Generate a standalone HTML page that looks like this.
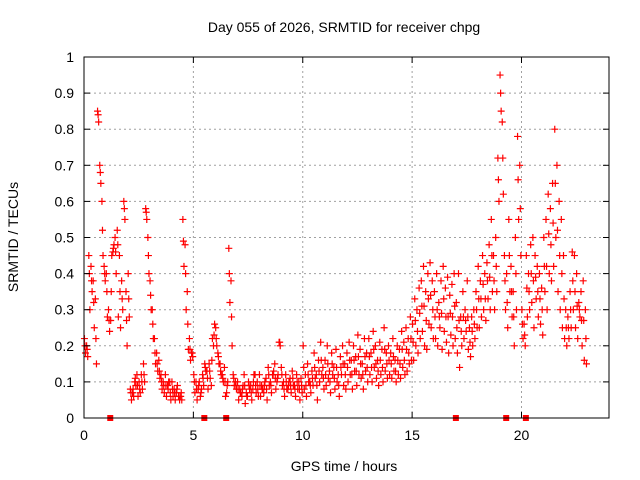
<!DOCTYPE html>
<html><head><meta charset="utf-8"><style>
body{margin:0;background:#fff}
svg{display:block;font-family:"Liberation Sans",sans-serif}
</style></head><body>
<svg id="chart" width="640" height="480" viewBox="0 0 640 480">
<rect width="640" height="480" fill="#fff"/>
<text x="344" y="32" font-size="14" text-anchor="middle" fill="#000">Day 055 of 2026, SRMTID for receiver chpg</text>
<text x="0" y="0" font-size="14" text-anchor="middle" transform="translate(18,237) rotate(-90)">SRMTID / TECUs</text>
<text x="344" y="471" font-size="14" text-anchor="middle">GPS time / hours</text>
<g id="grid"></g><g id="marks"></g><g id="axes"></g>
</svg>
<script>
const xTicks=[0,5,10,15,20];
const yTicks=[0,0.1,0.2,0.3,0.4,0.5,0.6,0.7,0.8,0.9,1];
const yTickLabels=["0","0.1","0.2","0.3","0.4","0.5","0.6","0.7","0.8","0.9","1"];
const timeStep=0.1;
const seriesA=[
0.22,0.20,0.45,0.42,0.38,0.33,0.85,0.70,0.60,0.42,
0.40,0.30,0.27,0.46,0.50,0.52,0.45,0.38,0.60,0.35,
0.40,0.08,0.07,0.10,0.12,0.10,0.12,0.15,0.58,0.50,
0.38,0.30,0.22,0.18,0.16,0.12,0.10,0.12,0.09,0.10,
0.10,0.08,0.07,0.06,0.06,0.55,0.48,0.35,0.22,0.18,
0.12,0.10,0.08,0.06,0.12,0.15,0.13,0.15,0.09,0.20,
0.25,0.18,0.15,0.12,0.14,0.07,0.47,0.38,0.12,0.10,
0.10,0.08,0.06,0.12,0.07,0.10,0.09,0.08,0.12,0.10,
0.12,0.09,0.07,0.11,0.14,0.10,0.12,0.15,0.10,0.21,
0.14,0.10,0.12,0.08,0.11,0.13,0.09,0.12,0.10,0.11,
0.20,0.12,0.15,0.10,0.13,0.18,0.12,0.16,0.21,0.14,
0.16,0.20,0.13,0.18,0.14,0.19,0.12,0.17,0.20,0.15,
0.18,0.21,0.16,0.20,0.17,0.23,0.19,0.15,0.22,0.18,
0.22,0.18,0.24,0.20,0.16,0.21,0.19,0.25,0.18,0.20,
0.18,0.22,0.16,0.20,0.19,0.24,0.21,0.25,0.22,0.28,
0.26,0.33,0.30,0.36,0.38,0.42,0.35,0.40,0.43,0.38,
0.35,0.40,0.32,0.38,0.42,0.36,0.39,0.34,0.37,0.40,
0.32,0.40,0.28,0.35,0.30,0.38,0.25,0.28,0.30,0.35,
0.42,0.38,0.45,0.40,0.43,0.48,0.55,0.45,0.50,0.72,
0.95,0.82,0.45,0.40,0.55,0.42,0.35,0.50,0.78,0.70,
0.30,0.26,0.45,0.40,0.48,0.50,0.45,0.42,0.40,0.36,
0.50,0.55,0.62,0.58,0.65,0.80,0.70,0.60,0.55,0.45,
0.30,0.28,0.35,0.46,0.45,0.40,0.32,0.35,0.38,0.30];
const seriesB=[
0.18,0.17,0.30,0.35,0.25,0.15,0.82,0.65,0.45,0.38,
0.28,0.24,0.45,0.48,0.40,0.28,0.25,0.30,0.55,0.20,
0.28,0.05,0.06,0.09,0.06,0.07,0.08,0.10,0.55,0.40,
0.30,0.22,0.15,0.13,0.11,0.08,0.07,0.06,0.10,0.05,
0.06,0.05,0.09,0.05,0.05,0.42,0.30,0.19,0.16,0.17,
0.07,0.05,0.10,0.08,0.09,0.13,0.08,0.11,0.22,0.26,
0.20,0.15,0.12,0.10,0.06,0.10,0.32,0.20,0.09,0.08,
0.05,0.07,0.09,0.04,0.06,0.08,0.05,0.12,0.07,0.06,
0.06,0.08,0.10,0.05,0.09,0.07,0.13,0.08,0.12,0.20,
0.09,0.06,0.08,0.10,0.07,0.09,0.06,0.08,0.05,0.07,
0.08,0.06,0.10,0.07,0.09,0.11,0.05,0.10,0.12,0.08,
0.09,0.11,0.07,0.12,0.08,0.10,0.06,0.12,0.09,0.08,
0.10,0.12,0.08,0.13,0.09,0.12,0.11,0.08,0.13,0.10,
0.12,0.10,0.14,0.11,0.09,0.12,0.10,0.13,0.11,0.12,
0.11,0.13,0.10,0.12,0.11,0.14,0.12,0.13,0.15,0.16,
0.16,0.20,0.18,0.22,0.24,0.20,0.19,0.26,0.25,0.22,
0.22,0.20,0.25,0.19,0.24,0.21,0.18,0.23,0.20,0.22,
0.18,0.14,0.20,0.22,0.24,0.19,0.17,0.20,0.22,0.25,
0.25,0.28,0.30,0.27,0.33,0.30,0.35,0.30,0.35,0.60,
0.85,0.62,0.30,0.25,0.35,0.28,0.20,0.30,0.55,0.45,
0.22,0.20,0.28,0.30,0.32,0.25,0.33,0.28,0.26,0.23,
0.35,0.30,0.40,0.38,0.42,0.50,0.35,0.30,0.25,0.22,
0.20,0.22,0.25,0.30,0.25,0.22,0.28,0.20,0.16,0.15];
const seriesC=[
0.20,0.19,0.40,0.38,0.32,0.22,0.84,0.68,0.52,0.40,
0.35,0.27,0.35,0.47,0.46,0.48,0.35,0.33,0.58,0.27,
0.33,0.07,0.08,0.11,0.09,0.08,0.10,0.12,0.57,0.45,
0.34,0.26,0.18,0.15,0.13,0.10,0.09,0.09,0.08,0.07,
0.08,0.07,0.08,0.06,0.07,0.49,0.40,0.26,0.19,0.18,
0.10,0.08,0.09,0.07,0.11,0.14,0.11,0.13,0.16,0.23,
0.22,0.17,0.13,0.11,0.10,0.09,0.40,0.28,0.11,0.09,
0.08,0.07,0.08,0.09,0.06,0.09,0.07,0.10,0.09,0.08,
0.09,0.08,0.09,0.08,0.12,0.09,0.12,0.11,0.11,0.21,
0.12,0.08,0.10,0.09,0.09,0.11,0.08,0.10,0.08,0.09,
0.14,0.09,0.12,0.09,0.11,0.14,0.09,0.13,0.16,0.11,
0.12,0.15,0.10,0.15,0.11,0.14,0.09,0.14,0.15,0.12,
0.14,0.16,0.12,0.16,0.13,0.17,0.15,0.12,0.17,0.14,
0.17,0.14,0.19,0.15,0.13,0.16,0.14,0.19,0.15,0.16,
0.15,0.17,0.13,0.16,0.15,0.19,0.16,0.19,0.18,0.22,
0.21,0.27,0.24,0.29,0.31,0.31,0.27,0.33,0.34,0.30,
0.28,0.30,0.28,0.29,0.33,0.28,0.28,0.29,0.28,0.31,
0.25,0.27,0.24,0.28,0.27,0.28,0.21,0.24,0.26,0.30,
0.33,0.33,0.37,0.33,0.38,0.39,0.45,0.38,0.42,0.66,
0.90,0.72,0.38,0.32,0.45,0.35,0.28,0.40,0.66,0.58,
0.26,0.23,0.36,0.35,0.40,0.38,0.39,0.35,0.33,0.30,
0.42,0.42,0.51,0.48,0.54,0.65,0.52,0.45,0.40,0.33,
0.25,0.25,0.30,0.38,0.35,0.31,0.30,0.27,0.27,0.22];
const gapTimes=[1.2,5.5,6.5,17.0,19.3,20.2];

const X0=84,X1=609,Y0=418,Y1=57,XMAX=24;
const sx=t=>X0+t/XMAX*(X1-X0);
const sy=v=>Y0-v*(Y0-Y1);
const NS="http://www.w3.org/2000/svg";
function mk(tag,attrs,parent){const e=document.createElementNS(NS,tag);for(const k in attrs)e.setAttribute(k,attrs[k]);parent.appendChild(e);return e;}
const grid=document.getElementById('grid'),marks=document.getElementById('marks'),axes=document.getElementById('axes');
yTicks.forEach((v,i)=>{
  const y=sy(v);
  if(v>0&&v<1){const g=mk('line',{x1:X0,x2:X1,y1:y,y2:y,stroke:'#a0a0a0','stroke-dasharray':'2,3'},grid);
  
  }
  const t=mk('text',{x:X0-10,y:y+5,'font-size':14,'text-anchor':'end'},axes);t.textContent=yTickLabels[i];
  
  
  mk('line',{x1:X0,x2:X0+6,y1:y,y2:y,stroke:'#000'},axes);
  mk('line',{x1:X1,x2:X1-6,y1:y,y2:y,stroke:'#000'},axes);
});
xTicks.forEach(v=>{
  const x=sx(v);
  if(v>0){const g=mk('line',{x1:x,x2:x,y1:Y0,y2:Y1,stroke:'#a0a0a0','stroke-dasharray':'2,3'},grid);
  
  }
  const t=mk('text',{x:x,y:Y0+22,'font-size':14,'text-anchor':'middle'},axes);t.textContent=String(v);
  
  
  mk('line',{x1:x,x2:x,y1:Y0,y2:Y0-6,stroke:'#000'},axes);
  mk('line',{x1:x,x2:x,y1:Y1,y2:Y1+6,stroke:'#000'},axes);
});
const frame=mk('rect',{x:X0,y:Y1,width:X1-X0,height:Y0-Y1,fill:'none',stroke:'#000'},axes);


function plus(t,v,color){
  const x=sx(t),y=sy(v);
  const p=mk('path',{d:`M${x-3.5},${y}H${x+3.5}M${x},${y-3.5}V${y+3.5}`,stroke:color,'stroke-width':1.2,fill:'none'},marks);
  
  
}
seriesA.forEach((v,i)=>plus(i*timeStep+0.02,v,'#ff0000'));
seriesB.forEach((v,i)=>plus(i*timeStep+0.07,v,'#ff0000'));
seriesC.forEach((v,i)=>plus(i*timeStep+0.045,v,'#ff0000'));
gapTimes.forEach(t=>{
  const r=mk('rect',{x:sx(t)-3,y:Y0-3,width:6,height:6,fill:'#ff0000'},marks);
  
  
});
</script>
</body></html>
